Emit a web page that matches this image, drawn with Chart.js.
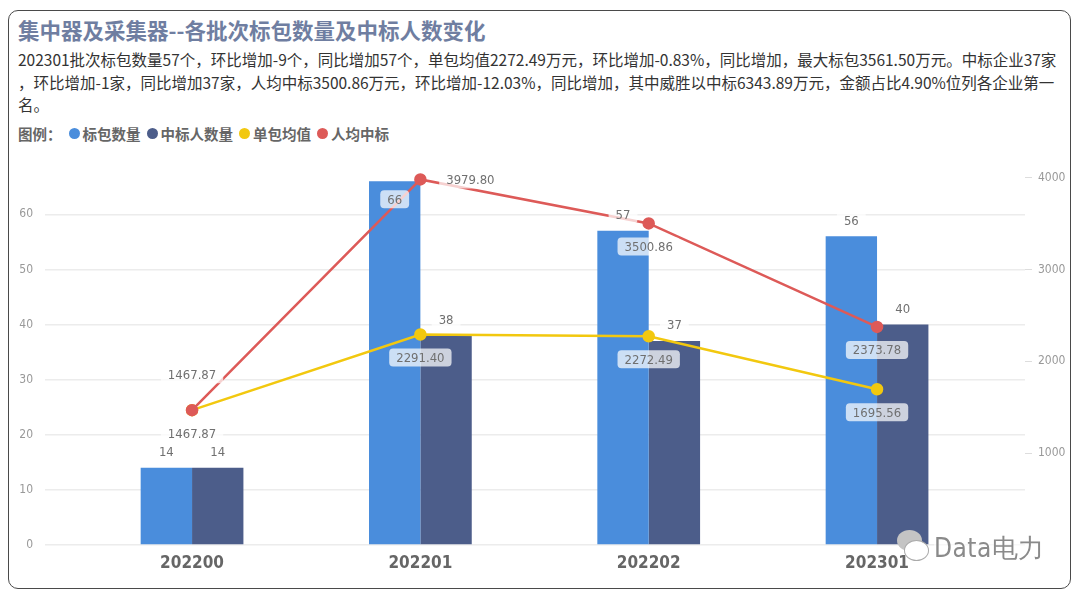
<!DOCTYPE html>
<html>
<head>
<meta charset="utf-8">
<script src="https://cdn.jsdelivr.net/npm/chart.js@4.4.1/dist/chart.umd.min.js"></script>
<style>
  body { margin: 0; width: 1080px; height: 597px; background: #fff; font-family: "Noto Sans CJK SC", sans-serif; overflow: hidden; }
  .card { position: absolute; left: 8px; top: 10px; width: 1061px; height: 577px; border: 1.5px solid #4a4a4a; border-radius: 10px; }
  .title { position: absolute; left: 18px; top: 14px; font-size: 21.5px; font-weight: bold; color: #6f7ea1; white-space: nowrap; }
  .desc { position: absolute; left: 18px; top: 48px; font-size: 15.5px; line-height: 22.5px; color: #333; }
  .desc div { white-space: nowrap; }
  .legend { position: absolute; left: 18px; top: 123px; font-size: 14.5px; font-weight: bold; color: #666; display: flex; align-items: center; white-space: nowrap; }
  .legend .item { display: flex; align-items: center; margin-right: 6px; }
  .legend .dot { width: 11px; height: 11px; border-radius: 50%; margin-right: 3px; }
  .chart-box { position: absolute; left: 10px; top: 140px; width: 1060px; height: 442px; }
  .mark { position: absolute; left: 934px; top: 531px; font-size: 26px; letter-spacing: 0.5px; color: #8a8a8a; background: rgba(255,255,255,0.6); font-family: "DejaVu Sans Condensed", "DejaVu Sans", sans-serif; font-weight: 200; }
  .bubble { position: absolute; left: 897px; top: 530px; width: 25px; height: 21px; border-radius: 50%; background: #c4c4c4; }
  .bubble2 { position: absolute; left: 904px; top: 540px; width: 23px; height: 19px; border-radius: 50%; border: 1.5px solid #aaa; background: #fff; }
</style>
</head>
<body>
<div class="card"></div>
<div class="title">集中器及采集器--各批次标包数量及中标人数变化</div>
<div class="desc">
  <div>202301批次标包数量57个，环比增加-9个，同比增加57个，单包均值2272.49万元，环比增加-0.83%，同比增加，最大标包3561.50万元。中标企业37家</div>
  <div>，环比增加-1家，同比增加37家，人均中标3500.86万元，环比增加-12.03%，同比增加，其中威胜以中标6343.89万元，金额占比4.90%位列各企业第一</div>
  <div>名。</div>
</div>
<div class="legend" id="legend"><span style="margin-right:7px">图例：</span></div>
<div class="chart-box"><canvas id="comboChart"></canvas></div>
<div class="bubble"></div>
<div class="bubble2"></div>
<div class="mark">Data电力</div>
<script>
const periods = ['202200', '202201', '202202', '202301'];
const bidPackages = [14, 66, 57, 56];
const winners = [14, 38, 37, 40];
const avgPerPackage = [1467.87, 2291.40, 2272.49, 1695.56];
const avgPerWinner = [1467.87, 3979.80, 3500.86, 2373.78];

const leftTicks = [0, 10, 20, 30, 40, 50, 60];
const rightTicks = [1000, 2000, 3000, 4000];

const seriesNames = ['标包数量', '中标人数量', '单包均值', '人均中标'];
const seriesColors = ['#4a8ddc', '#4c5d8a', '#f2c80f', '#dd5a58'];

const legend = document.getElementById('legend');
seriesNames.forEach((name, i) => {
    const item = document.createElement('span');
    item.className = 'item';
    item.innerHTML = '<span class="dot" style="background:' + seriesColors[i] + '"></span>' + name;
    legend.appendChild(item);
});

const toPoints = arr => arr.map((v, i) => ({ x: i, y: v }));
const numFont = '"DejaVu Sans Condensed", "DejaVu Sans", sans-serif';

// labels drawn on top of everything, with a soft white box behind
const valueLabels = {
    id: 'valueLabels',
    afterDatasetsDraw(chart) {
        const ctx = chart.ctx;
        ctx.save();
        ctx.font = '13px ' + numFont;
        ctx.textAlign = 'center';
        ctx.textBaseline = 'middle';
        chart.data.datasets.forEach((ds, di) => {
            const meta = chart.getDatasetMeta(di);
            meta.data.forEach((el, i) => {
                const v = ds.data[i].y;
                const text = ds.type === 'bar' ? String(v) : v.toFixed(2);
                const pos = ds.labelPos[i];
                let x = el.x, y = el.y;
                if (pos === 'top') y -= 16;
                else if (pos === 'inside') y += 18;
                else if (pos === 'above') y -= 36;
                else if (pos === 'below') y += 23;
                else if (pos === 'right') x += 50;
                const w = ctx.measureText(text).width + 14, h = 18;
                ctx.fillStyle = 'rgba(255,255,255,0.72)';
                ctx.beginPath();
                ctx.roundRect(x - w / 2, y - h / 2, w, h, 4);
                ctx.fill();
                ctx.fillStyle = '#707070';
                ctx.fillText(text, x, y + 1);
            });
        });
        ctx.restore();
    }
};

const ctx = document.getElementById('comboChart').getContext('2d');
new Chart(ctx, {
    data: {
        datasets: [{
            type: 'bar',
            label: seriesNames[0],
            data: toPoints(bidPackages),
            backgroundColor: seriesColors[0],
            yAxisID: 'y',
            order: 2,
            barPercentage: 1,
            categoryPercentage: 0.45,
            labelPos: ['top', 'inside', 'top', 'top']
        }, {
            type: 'bar',
            label: seriesNames[1],
            data: toPoints(winners),
            backgroundColor: seriesColors[1],
            yAxisID: 'y',
            order: 2,
            barPercentage: 1,
            categoryPercentage: 0.45,
            labelPos: ['top', 'top', 'top', 'top']
        }, {
            type: 'line',
            label: seriesNames[2],
            data: toPoints(avgPerPackage),
            borderColor: seriesColors[2],
            backgroundColor: seriesColors[2],
            borderWidth: 2.5,
            pointRadius: 5,
            pointHoverRadius: 5,
            yAxisID: 'y1',
            order: 1,
            labelPos: ['below', 'below', 'below', 'below']
        }, {
            type: 'line',
            label: seriesNames[3],
            data: toPoints(avgPerWinner),
            borderColor: seriesColors[3],
            backgroundColor: seriesColors[3],
            borderWidth: 2.5,
            pointRadius: 5,
            pointHoverRadius: 5,
            yAxisID: 'y1',
            order: 0,
            labelPos: ['above', 'right', 'below', 'below']
        }]
    },
    options: {
        responsive: true,
        maintainAspectRatio: false,
        animation: false,
        layout: { padding: { top: 7, bottom: 0 } },
        plugins: {
            legend: { display: false },
            tooltip: { enabled: false }
        },
        scales: {
            x: {
                type: 'linear',
                offset: false,
                min: -0.644,
                max: 3.648,
                grid: { display: false },
                border: { display: false },
                afterBuildTicks: s => { s.ticks = periods.map((p, i) => ({ value: i })); },
                afterFit: s => { s.height = 37; },
                ticks: {
                    padding: 0,
                    color: '#666',
                    font: { family: numFont, size: 17, weight: 'bold' },
                    callback: v => periods[v] ?? ''
                }
            },
            y: {
                position: 'left',
                min: 0,
                max: 70,
                border: { display: false },
                afterBuildTicks: s => { s.ticks = leftTicks.map(v => ({ value: v })); },
                afterFit: s => { s.width = 35; },
                grid: { color: '#ececec', lineWidth: 1.5, drawTicks: false },
                ticks: {
                    padding: 12,
                    color: '#999',
                    font: { family: numFont, size: 12 }
                }
            },
            y1: {
                position: 'right',
                min: 0,
                max: 4200,
                border: { display: false },
                afterBuildTicks: s => { s.ticks = rightTicks.map(v => ({ value: v })); },
                afterFit: s => { s.width = 45; },
                grid: { drawOnChartArea: false, drawTicks: true, tickLength: 7, color: '#ddd' },
                ticks: {
                    padding: 6,
                    color: '#999',
                    font: { family: numFont, size: 12 },
                    callback: v => String(v)
                }
            }
        }
    },
    plugins: [valueLabels]
});
</script>
</body>
</html>
